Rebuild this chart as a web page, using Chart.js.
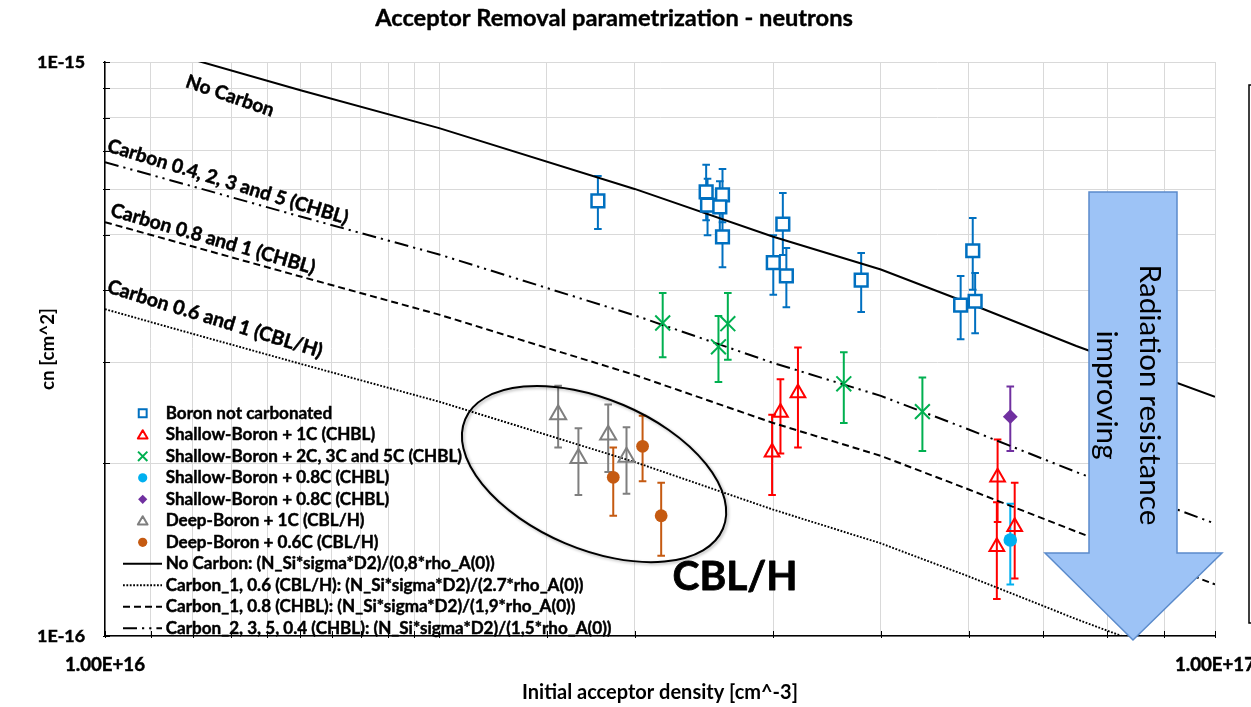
<!DOCTYPE html>
<html><head><meta charset="utf-8">
<script src="https://cdn.jsdelivr.net/npm/chart.js@4.4.1/dist/chart.umd.min.js"></script>
<style>html,body{margin:0;padding:0;background:#fff;overflow:hidden}canvas{display:block}</style>
</head><body>
<canvas id="c" width="1251" height="707"></canvas>
<script>
// ---------------- data ----------------
const xTickLabels = ['1.00E+16', '1.00E+17'];
const yTickLabels = ['1E-16', '1E-15'];

// parametrization curves
const curveX = [1.0e16, 1.2e16, 1.5e16, 2.0e16, 3.0e16, 4.0e16, 5.0e16, 6.0e16, 7.5e16, 1.0e17];
const noCarbonY     = [1.11e-15, 1.01e-15, 8.93e-16, 7.67e-16, 6.01e-16, 4.96e-16, 4.35e-16, 3.80e-16, 3.20e-16, 2.61e-16];
const carbon2350Y   = [6.69e-16, 6.07e-16, 5.38e-16, 4.62e-16, 3.62e-16, 2.99e-16, 2.62e-16, 2.29e-16, 1.93e-16, 1.57e-16];
const carbon108Y    = [5.26e-16, 4.77e-16, 4.23e-16, 3.63e-16, 2.85e-16, 2.35e-16, 2.06e-16, 1.80e-16, 1.52e-16, 1.23e-16];
const carbon106Y    = [3.71e-16, 3.36e-16, 2.98e-16, 2.56e-16, 2.01e-16, 1.66e-16, 1.45e-16, 1.27e-16, 1.07e-16, 0.87e-16];

// measurements
const boronX  = [2.78e16, 3.48e16, 3.49e16, 3.60e16, 3.58e16, 3.60e16, 4.00e16, 4.08e16, 4.11e16, 4.80e16, 5.90e16, 6.05e16, 6.08e16];
const boronY  = [5.73e-16, 5.94e-16, 5.63e-16, 5.87e-16, 5.59e-16, 4.96e-16, 4.47e-16, 5.22e-16, 4.24e-16, 4.17e-16, 3.77e-16, 4.69e-16, 3.83e-16];
const boronLo = [5.12e-16, 5.30e-16, 4.99e-16, 5.26e-16, 5.06e-16, 4.39e-16, 3.93e-16, 4.61e-16, 3.74e-16, 3.67e-16, 3.29e-16, 4.01e-16, 3.37e-16];
const boronHi = [6.33e-16, 6.62e-16, 6.26e-16, 6.51e-16, 6.20e-16, 5.57e-16, 4.99e-16, 5.91e-16, 4.74e-16, 4.65e-16, 4.24e-16, 5.35e-16, 4.29e-16];

const sb1cX  = [3.99e16, 4.06e16, 4.21e16, 6.37e16, 6.36e16, 6.60e16];
const sb1cY  = [2.09e-16, 2.45e-16, 2.65e-16, 1.89e-16, 1.43e-16, 1.55e-16];
const sb1cLo = [1.76e-16, 2.08e-16, 2.13e-16, 1.58e-16, 1.16e-16, 1.26e-16];
const sb1cHi = [2.43e-16, 2.80e-16, 3.18e-16, 2.20e-16, 1.71e-16, 1.85e-16];

const sb235X  = [3.18e16, 3.57e16, 3.64e16, 4.63e16, 5.45e16];
const sb235Y  = [3.51e-16, 3.19e-16, 3.50e-16, 2.75e-16, 2.46e-16];
const sb235Lo = [3.06e-16, 2.77e-16, 3.03e-16, 2.35e-16, 2.10e-16];
const sb235Hi = [3.96e-16, 3.61e-16, 3.96e-16, 3.12e-16, 2.82e-16];

const sb08aX = [6.54e16], sb08aY = [1.47e-16], sb08aLo = [1.23e-16], sb08aHi = [1.70e-16];
const sb08bX = [6.54e16], sb08bY = [2.41e-16], sb08bLo = [2.10e-16], sb08bHi = [2.72e-16];

const db1cX  = [2.56e16, 2.67e16, 2.84e16, 2.95e16];
const db1cY  = [2.43e-16, 2.04e-16, 2.24e-16, 2.05e-16];
const db1cLo = [2.13e-16, 1.76e-16, 1.93e-16, 1.77e-16];
const db1cHi = [2.73e-16, 2.30e-16, 2.53e-16, 2.31e-16];

const db06X  = [2.87e16, 3.05e16, 3.17e16];
const db06Y  = [1.89e-16, 2.14e-16, 1.62e-16];
const db06Lo = [1.62e-16, 1.86e-16, 1.38e-16];
const db06Hi = [2.13e-16, 2.42e-16, 1.85e-16];

// ---------------- helpers ----------------
const FAM = 'Lato';
const mctx = document.createElement('canvas').getContext('2d');
function fit(text, weight, target) {
  mctx.font = weight + ' 100px ' + FAM;
  return 100 * target / mctx.measureText(text).width;
}
const zip = (xs, ys) => xs.map((x, i) => ({x, y: ys[i]}));

const fTitle = fit('Acceptor Removal parametrization - neutrons', 'bold', 478);
const fXTitle = fit('Initial acceptor density [cm^-3]', 'bold', 276);
const fYTitle = fit('cn [cm^2]', 'bold', 82);
const fXTick = fit(xTickLabels[0], 'bold', 80);
const fYTick = fit(yTickLabels[1], 'bold', 48);
const fLegend = fit('Carbon_2, 3, 5, 0.4 (CHBL): (N_Si*sigma*D2)/(1,5*rho_A(0))', 'bold', 446);

function scatterSet(label, xs, ys, lo, hi, style, color, radius, bw, fill) {
  return {
    label, data: zip(xs, ys), errLow: lo, errHigh: hi,
    pointStyle: style, pointRadius: radius, pointHoverRadius: radius,
    pointBorderWidth: bw, pointBorderColor: color, borderColor: color,
    pointBackgroundColor: fill, backgroundColor: fill, showLine: false,
    legendR: style === 'crossRot' ? 6.6 : (style === 'rect' ? 5.6 : (style === 'triangle' ? 5.6 : 4.6))
  };
}
function lineSet(label, ys, dash, width) {
  return {
    label, data: zip(curveX, ys), showLine: true, pointRadius: 0, pointHoverRadius: 0,
    borderColor: '#000', borderWidth: width, borderDash: dash, backgroundColor: '#000', fill: false, isCurve: true
  };
}

const datasets = [
  scatterSet('Boron not carbonated', boronX, boronY, boronLo, boronHi, 'rect', '#0070C0', 9, 2.5, '#ffffff'),
  scatterSet('Shallow-Boron + 1C (CHBL)', sb1cX, sb1cY, sb1cLo, sb1cHi, 'triangle', '#FF0000', 8.5, 2, 'rgba(0,0,0,0)'),
  scatterSet('Shallow-Boron + 2C, 3C and 5C (CHBL)', sb235X, sb235Y, sb235Lo, sb235Hi, 'crossRot', '#00B050', 10.5, 2, 'rgba(0,0,0,0)'),
  scatterSet('Shallow-Boron + 0.8C (CHBL)', sb08aX, sb08aY, sb08aLo, sb08aHi, 'circle', '#00B0F0', 6.8, 0, '#00B0F0'),
  scatterSet('Shallow-Boron + 0.8C (CHBL)', sb08bX, sb08bY, sb08bLo, sb08bHi, 'rectRot', '#7030A0', 7.4, 0, '#7030A0'),
  scatterSet('Deep-Boron + 1C (CBL/H)', db1cX, db1cY, db1cLo, db1cHi, 'triangle', '#7F7F7F', 9.3, 2, 'rgba(0,0,0,0)'),
  scatterSet('Deep-Boron + 0.6C (CBL/H)', db06X, db06Y, db06Lo, db06Hi, 'circle', '#C55A11', 6.4, 0, '#C55A11'),
  lineSet('No Carbon: (N_Si*sigma*D2)/(0,8*rho_A(0))', noCarbonY, [], 2),
  lineSet('Carbon_1, 0.6 (CBL/H): (N_Si*sigma*D2)/(2.7*rho_A(0))', carbon106Y, [1.8, 1.6], 1.9),
  lineSet('Carbon_1, 0.8 (CHBL): (N_Si*sigma*D2)/(1,9*rho_A(0))', carbon108Y, [7, 4], 2),
  lineSet('Carbon_2, 3, 5, 0.4 (CHBL): (N_Si*sigma*D2)/(1,5*rho_A(0))', carbon2350Y, [14, 5, 2.2, 5, 2.2, 5], 2)
];

// ---------------- plugins ----------------
const errorBars = {
  id: 'errorBars',
  beforeDatasetsDraw(chart) {
    const {ctx, chartArea: a, scales: {x, y}} = chart;
    ctx.save();
    ctx.beginPath(); ctx.rect(a.left, a.top - 4, a.right - a.left, a.bottom - a.top + 8); ctx.clip();
    chart.data.datasets.forEach(ds => {
      if (!ds.errLow) return;
      ctx.strokeStyle = ds.borderColor; ctx.lineWidth = 2;
      ds.data.forEach((p, i) => {
        const px = x.getPixelForValue(p.x);
        const y1 = y.getPixelForValue(ds.errHigh[i]);
        const y2 = y.getPixelForValue(ds.errLow[i]);
        ctx.beginPath();
        ctx.moveTo(px, y1); ctx.lineTo(px, y2);
        ctx.moveTo(px - 3.8, y1); ctx.lineTo(px + 3.8, y1);
        ctx.moveTo(px - 3.8, y2); ctx.lineTo(px + 3.8, y2);
        ctx.stroke();
      });
    });
    ctx.restore();
  }
};

function marker(ctx, style, x, y, r, stroke, fill, lw) {
  ctx.save();
  ctx.lineWidth = lw; ctx.strokeStyle = stroke; ctx.fillStyle = fill;
  ctx.beginPath();
  if (style === 'rect') { const s = r * Math.SQRT1_2; ctx.rect(x - s, y - s, 2 * s, 2 * s); }
  else if (style === 'triangle') { ctx.moveTo(x, y - r); ctx.lineTo(x + r * 0.866, y + r / 2); ctx.lineTo(x - r * 0.866, y + r / 2); ctx.closePath(); }
  else if (style === 'crossRot') { const d = r * Math.SQRT1_2; ctx.moveTo(x - d, y - d); ctx.lineTo(x + d, y + d); ctx.moveTo(x + d, y - d); ctx.lineTo(x - d, y + d); }
  else if (style === 'circle') { ctx.arc(x, y, r, 0, Math.PI * 2); }
  else if (style === 'rectRot') { ctx.moveTo(x - r, y); ctx.lineTo(x, y - r); ctx.lineTo(x + r, y); ctx.lineTo(x, y + r); ctx.closePath(); }
  ctx.fill();
  if (lw > 0) ctx.stroke();
  ctx.restore();
}

function heavyText(ctx, text, x, y, sw) {
  ctx.fillText(text, x, y);
  if (sw) { ctx.lineWidth = sw; ctx.strokeStyle = ctx.fillStyle; ctx.lineJoin = 'round'; ctx.strokeText(text, x, y); }
}

function rotText(ctx, text, cx, cy, deg, target, weight, sw) {
  const size = fit(text, weight, target);
  ctx.save();
  ctx.translate(cx, cy); ctx.rotate(deg * Math.PI / 180);
  ctx.font = weight + ' ' + size + 'px ' + FAM;
  ctx.textAlign = 'center'; ctx.textBaseline = 'middle'; ctx.fillStyle = '#000';
  heavyText(ctx, text, 0, 0, sw);
  ctx.restore();
}

// annotation geometry (not data)
const curveLabels = [
  {text: 'No Carbon', cx: 230, cy: 96, deg: 19, w: 92},
  {text: 'Carbon 0.4, 2, 3 and 5 (CHBL)', cx: 228, cy: 182, deg: 17, w: 251},
  {text: 'Carbon 0.8 and 1 (CHBL)', cx: 213, cy: 239, deg: 16, w: 212},
  {text: 'Carbon 0.6 and 1 (CBL/H)', cx: 215, cy: 319, deg: 17, w: 224}
];
const ellipseAnn = {x: 2.758e16, y: 1.915e-16, a: 140, b: 75, deg: 23};
const arrowAnn = {shaftL: 1089, shaftR: 1177, top: 192, headY: 553, headL: 1045, headR: 1222, tipX: 1133, tipY: 640};

const decorations = {
  id: 'decorations',
  afterDraw(chart) {
    const {ctx, chartArea: a, scales: {x, y}} = chart;
    // title
    ctx.save();
    ctx.font = 'bold ' + fTitle + 'px ' + FAM; ctx.fillStyle = '#000';
    ctx.textAlign = 'center'; ctx.textBaseline = 'middle';
    heavyText(ctx, 'Acceptor Removal parametrization - neutrons', 614, 18, 0.4);
    ctx.restore();

    // inside tick marks
    ctx.save(); ctx.strokeStyle = '#000'; ctx.lineWidth = 1;
    y.ticks.forEach(t => { const py = Math.round(y.getPixelForValue(t.value)) + 0.5; ctx.beginPath(); ctx.moveTo(a.left - 2, py); ctx.lineTo(a.left + 5, py); ctx.stroke(); });
    x.ticks.forEach(t => { const px = Math.round(x.getPixelForValue(t.value)) + 0.5; ctx.beginPath(); ctx.moveTo(px, a.bottom + 2); ctx.lineTo(px, a.bottom - 5); ctx.stroke(); });
    ctx.restore();

    // ellipse
    ctx.save();
    ctx.shadowColor = 'rgba(0,0,0,0.3)'; ctx.shadowBlur = 3; ctx.shadowOffsetX = 1.5; ctx.shadowOffsetY = 1.5;
    ctx.strokeStyle = '#000'; ctx.lineWidth = 2;
    ctx.beginPath();
    ctx.ellipse(x.getPixelForValue(ellipseAnn.x), y.getPixelForValue(ellipseAnn.y), ellipseAnn.a, ellipseAnn.b, ellipseAnn.deg * Math.PI / 180, 0, Math.PI * 2);
    ctx.stroke();
    ctx.restore();

    // curve labels
    curveLabels.forEach(l => rotText(ctx, l.text, l.cx, l.cy, l.deg, l.w, 'bold', 0.5));
    rotText(ctx, 'CBL/H', 735, 577, 0, 125, 'bold', 0.8);

    // arrow
    const A = arrowAnn;
    ctx.save();
    ctx.beginPath();
    ctx.moveTo(A.shaftL, A.top); ctx.lineTo(A.shaftR, A.top); ctx.lineTo(A.shaftR, A.headY);
    ctx.lineTo(A.headR, A.headY); ctx.lineTo(A.tipX, A.tipY); ctx.lineTo(A.headL, A.headY);
    ctx.lineTo(A.shaftL, A.headY); ctx.closePath();
    ctx.fillStyle = '#9DC3F6'; ctx.fill();
    ctx.strokeStyle = '#5B8BCB'; ctx.lineWidth = 1.5; ctx.stroke();
    const s1 = fit('Radiation resistance', 'normal', 261);
    ctx.translate(1128.5, 395); ctx.rotate(Math.PI / 2);
    ctx.font = 'normal ' + s1 + 'px ' + FAM; ctx.fillStyle = '#000';
    ctx.textAlign = 'center'; ctx.textBaseline = 'middle';
    ctx.fillText('Radiation resistance', 0, -21.5);
    ctx.fillText('improving', 0, 21.5);
    ctx.restore();

    // right side frame
    ctx.save(); ctx.strokeStyle = '#000'; ctx.lineWidth = 1.5;
    ctx.beginPath(); ctx.moveTo(1260, 85); ctx.lineTo(1249, 85); ctx.lineTo(1249, 623); ctx.lineTo(1260, 623); ctx.stroke();
    ctx.restore();

    // legend
    ctx.save();
    ctx.font = 'bold ' + fLegend + 'px ' + FAM; ctx.fillStyle = '#000';
    ctx.textAlign = 'left'; ctx.textBaseline = 'middle';
    chart.data.datasets.forEach((ds, i) => {
      const ry = 413.3 + i * 21.5;
      if (ds.isCurve) {
        ctx.save(); ctx.strokeStyle = '#000'; ctx.lineWidth = ds.borderWidth; ctx.setLineDash(ds.borderDash);
        ctx.beginPath(); ctx.moveTo(123, ry); ctx.lineTo(162, ry); ctx.stroke(); ctx.restore();
      } else {
        marker(ctx, ds.pointStyle, 142.7, ds.pointStyle === 'triangle' ? ry + 1 : ry, ds.legendR, ds.pointBorderColor, ds.pointBackgroundColor, ds.pointBorderWidth ? 2 : 0);
      }
      ctx.fillStyle = '#000';
      heavyText(ctx, ds.label, 165.7, ry, 0.45);
    });
    ctx.restore();
  }
};

// ---------------- chart ----------------
const isPow10 = v => Math.abs(Math.log10(v) - Math.round(Math.log10(v))) < 1e-6;

new Chart(document.getElementById('c'), {
  type: 'scatter',
  data: {datasets},
  plugins: [errorBars, decorations],
  options: {
    responsive: false, animation: false, events: [],
    layout: {padding: {top: 62, right: 36, left: 0, bottom: 0}},
    plugins: {legend: {display: false}, tooltip: {enabled: false}, title: {display: false}},
    scales: {
      x: {
        type: 'logarithmic', min: 1e16, max: 1e17,
        grid: {color: '#d9d9d9', lineWidth: 1, drawTicks: false},
        border: {color: '#000', width: 1.5},
        ticks: {
          autoSkip: false, maxRotation: 0, minRotation: 0, padding: 18, color: '#000',
          textStrokeColor: '#000', textStrokeWidth: 0.5,
          font: {family: FAM, weight: 'bold', size: fXTick},
          callback: v => isPow10(v) ? xTickLabels[Math.round(Math.log10(v)) - 16] : ''
        },
        title: {display: true, text: 'Initial acceptor density [cm^-3]', color: '#000',
          font: {family: FAM, weight: 'bold', size: fXTitle}, padding: {top: 0, bottom: 707 - 693 - 0.6 * fXTitle}},
        afterFit(s) { s.height = 71; s.paddingLeft = 0; s.paddingRight = 0; }
      },
      y: {
        type: 'logarithmic', min: 1e-16, max: 1e-15,
        grid: {color: '#d9d9d9', lineWidth: 1, drawTicks: false},
        border: {color: '#000', width: 1.5},
        ticks: {
          autoSkip: false, padding: 20, color: '#000',
          textStrokeColor: '#000', textStrokeWidth: 0.5,
          font: {family: FAM, weight: 'bold', size: fYTick},
          callback: v => isPow10(v) ? yTickLabels[Math.round(Math.log10(v)) + 16] : ''
        },
        title: {display: true, text: 'cn [cm^2]', color: '#000',
          font: {family: FAM, weight: 'bold', size: fYTitle}, padding: {top: 48 - 0.6 * fYTitle, bottom: 0}},
        afterFit(s) { s.width = 105; s.paddingTop = 0; s.paddingBottom = 0; }
      }
    }
  }
});
</script>
</body></html>
